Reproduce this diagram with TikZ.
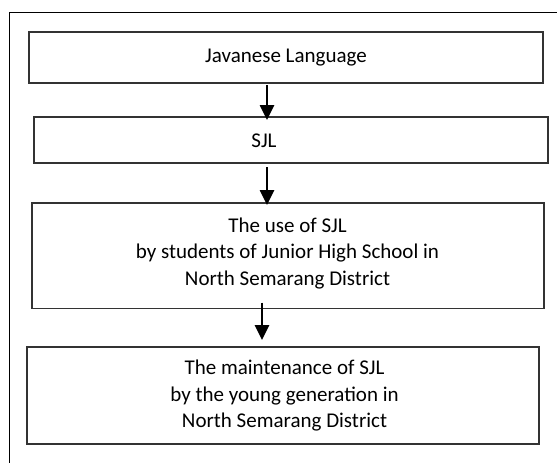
\documentclass[tikz,border=0pt]{standalone}
\usepackage{fontspec}
\setmainfont{Carlito}
\usetikzlibrary{arrows.meta}
\begin{document}
\begin{tikzpicture}[x=1pt,y=-1pt,
  boxstyle/.style={draw=black!80, line width=1.2pt, rectangle, inner sep=0pt, outer sep=0pt},
  txtstyle/.style={font=\fontsize{21}{26.5}\selectfont, align=center, inner sep=0pt},
  arr/.style={line width=2.6pt, -{Triangle[length=15pt,width=14pt]}}]
\useasboundingbox (0,0) rectangle (557,463);
\node[draw=black, line width=1pt, rectangle, inner sep=0pt, minimum width=551pt, minimum height=454pt] (outer) at (284.5,239) {};
\node[boxstyle, minimum width=514pt, minimum height=51pt, txtstyle] (b1) at (286,57.5) {Javanese Language};
\node[boxstyle, minimum width=514pt, minimum height=46pt] (b2) at (291,140) {};
\node[txtstyle] (t2) at (264,141) {SJL};
\node[boxstyle, minimum width=512pt, minimum height=105.5pt] (b3) at (288,255.75) {};
\node[txtstyle] (t3) at (287.5,253.5) {The use of SJL\\by students of Junior High School in\\North Semarang District};
\node[boxstyle, minimum width=512pt, minimum height=97pt] (b4) at (283,395.5) {};
\node[txtstyle] (t4) at (284.5,396) {The maintenance of SJL\\by the young generation in\\North Semarang District};
\coordinate (x1) at (267,0);
\coordinate (x2) at (262,0);
\draw[arr, shorten <=2pt, shorten >=-3pt] (b1.south -| x1) -- (b2.north -| x1);
\draw[arr, shorten <=4pt, shorten >=-2pt] (b2.south -| x1) -- (b3.north -| x1);
\draw[arr, shorten <=-6pt, shorten >=7pt] (b3.south -| x2) -- (b4.north -| x2);
\end{tikzpicture}
\end{document}
